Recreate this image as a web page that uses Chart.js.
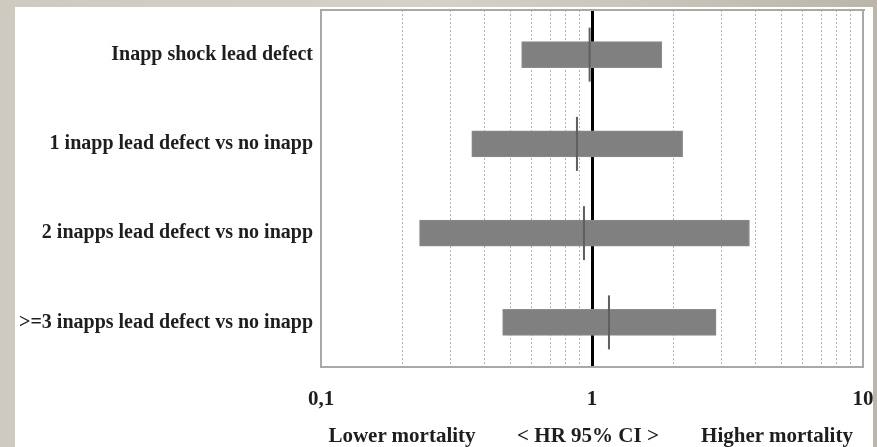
<!DOCTYPE html>
<html>
<head>
<meta charset="utf-8">
<script src="https://cdn.jsdelivr.net/npm/chart.js@4/dist/chart.umd.min.js"></script>
<style>
  html, body { margin: 0; padding: 0; }
  body {
    width: 877px; height: 447px; overflow: hidden; position: relative;
    background: linear-gradient(to right, #cdcbbf 0%, #d4d2c7 50%, #bab7aa 100%);
    font-family: "Liberation Serif", "Times New Roman", serif;
  }
  #panel {
    position: absolute; left: 15px; top: 7px; width: 858px; height: 440px;
    background: #fff; overflow: hidden;
  }
  #wrap { position: absolute; left: -15px; top: -7px; width: 877px; height: 447px; }
  .foot {
    position: absolute; top: 435px; transform: translate(-50%, -50%);
    font: bold 21px "Liberation Serif", serif; color: #1e1e1e; white-space: nowrap;
  }
</style>
</head>
<body>
<div id="panel">
  <div id="wrap"><canvas id="forest" width="877" height="447"></canvas></div>
</div>
<div class="foot" style="left:402px">Lower mortality</div>
<div class="foot" style="left:588px">&lt; HR 95% CI &gt;</div>
<div class="foot" style="left:777px">Higher mortality</div>

<script>
// rader (uppifrån och ner)
const groups = [
  'Inapp shock lead defect',
  '1 inapp lead defect vs no inapp',
  '2 inapps lead defect vs no inapp',
  '>=3 inapps lead defect vs no inapp'
];
const ciLow  = [0.55, 0.36, 0.231, 0.468];
const ciHigh = [1.81, 2.16, 3.81, 2.87];
const hr     = [0.98, 0.88, 0.934, 1.155];

// log-axel: rutnät och etiketter
const gridValues = [0.1, 0.2, 0.3, 0.4, 0.5, 0.6, 0.7, 0.8, 0.9, 1, 2, 3, 4, 5, 6, 7, 8, 9, 10];
const tickText = { 0.1: '0,1', 1: '1', 10: '10' };

const serif = "'Liberation Serif', 'Times New Roman', serif";
const ram = '#a9a9a9';

// nolla axlarnas egna kantmarginaler så att ritytan hamnar exakt
const noPad = s => { s.paddingLeft = s.paddingRight = s.paddingTop = s.paddingBottom = 0; };

new Chart(document.getElementById('forest'), {
  type: 'bar',
  data: {
    labels: groups,
    datasets: [
      {
        label: '95% CI',
        data: ciLow.map((lo, i) => [lo, ciHigh[i]]),
        backgroundColor: '#808080',
        borderColor: '#8c8c8c',
        borderWidth: 1,
        borderSkipped: false,
        barThickness: 26,
        order: 2
      },
      {
        type: 'line',
        label: 'HR',
        data: hr.map((v, i) => ({ x: v, y: groups[i] })),
        showLine: false,
        pointStyle: 'line',
        rotation: 90,
        pointRadius: 27,
        pointBorderWidth: 2,
        pointBorderColor: '#5e5e5e',
        borderColor: '#5e5e5e',
        clip: false,
        order: 1
      }
    ]
  },
  options: {
    indexAxis: 'y',
    responsive: false,
    animation: false,
    layout: { autoPadding: false, padding: { left: 0, top: 10, right: 14, bottom: 0 } },
    plugins: { legend: { display: false }, tooltip: { enabled: false } },
    scales: {
      x: {
        type: 'logarithmic',
        min: 0.1, max: 10,
        afterBuildTicks: s => { s.ticks = gridValues.map(v => ({ value: v })); },
        afterFit: s => { s.height = 80; noPad(s); },
        ticks: {
          autoSkip: false, maxRotation: 0, padding: 20,
          color: '#1e1e1e',
          font: { family: serif, size: 21, weight: 'bold' },
          callback: v => tickText[v] || ''
        },
        grid: {
          drawTicks: false,
          color: c => {
            const v = c.tick && c.tick.value;
            if (v === 1) return 'rgba(0,0,0,0)';
            if (v === 0.1 || v === 10) return ram;
            return '#b4b4b4';
          },
          lineWidth: c => {
            const v = c.tick && c.tick.value;
            return (v === 0.1 || v === 10) ? 2 : 1;
          }
        },
        border: {
          color: ram, width: 2,
          dash: c => {
            const v = c.tick && c.tick.value;
            if (v === undefined || v === 0.1 || v === 1 || v === 10) return [];
            return [2, 2];
          }
        }
      },
      // referenslinje vid HR = 1, ritas ovanpå staplarna
      xRef: {
        type: 'logarithmic',
        position: 'top',
        min: 0.1, max: 10,
        z: 1,
        afterBuildTicks: s => { s.ticks = [{ value: 1 }]; },
        afterFit: s => { s.height = 0; noPad(s); },
        ticks: { display: false },
        grid: { drawTicks: false, color: '#000', lineWidth: 3 },
        border: { color: ram, width: 2 }
      },
      y: {
        afterFit: s => { s.width = 321; noPad(s); },
        ticks: {
          padding: 8,
          color: '#1e1e1e',
          font: { family: serif, size: 20, weight: 'bold' }
        },
        grid: { display: false, drawTicks: false },
        border: { color: ram, width: 2 }
      }
    }
  }
});
</script>
</body>
</html>
